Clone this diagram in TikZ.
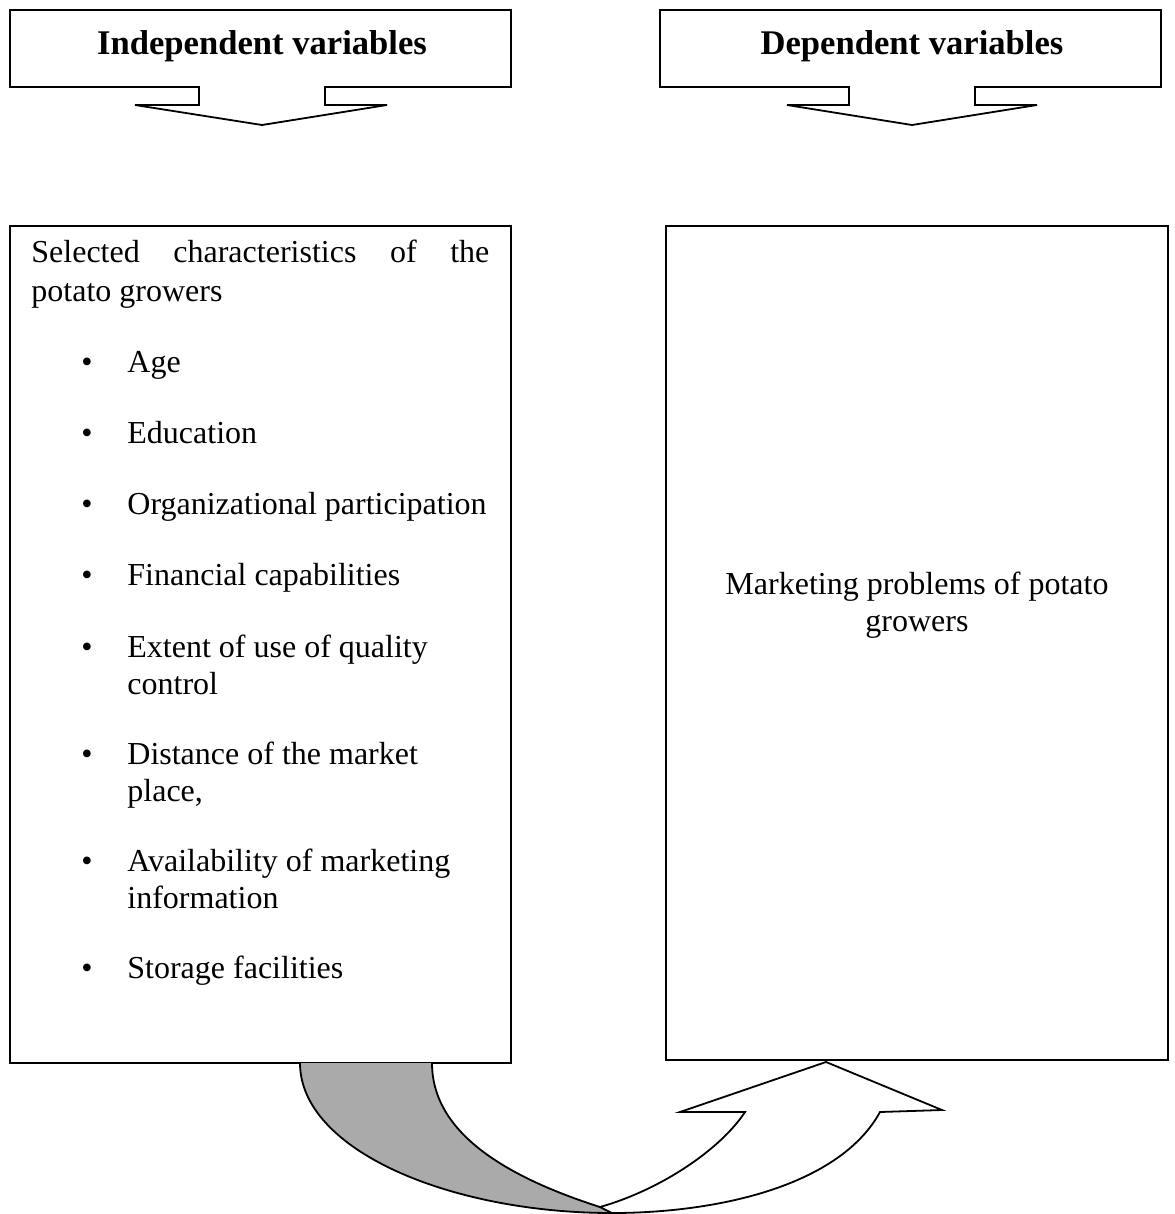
\documentclass[tikz,border=0pt]{standalone}
\usepackage{fontspec}
\setmainfont{Liberation Serif}
\definecolor{ribbon}{RGB}{170,170,170}
\begin{document}
\begin{tikzpicture}[x=0.5pt,y=-0.5pt,
  outline/.style={draw=black,line width=0.9pt,line join=miter},
  hdrtext/.style={font=\fontsize{17.3}{20}\selectfont\bfseries,inner sep=0pt,anchor=base},
  bodytext/.style={font=\fontsize{16}{18.5}\selectfont,inner sep=0pt,anchor=base west},
  bul/.style={font=\fontsize{16}{18.5}\selectfont,inner sep=0pt,anchor=base},
  mainbox/.style={outline,fill=white,inner sep=0pt}]
\useasboundingbox (0,0) rectangle (1174,1214);
% header callouts
\draw[outline] (10,10) -- (511,10) -- (511,87) -- (325,87) -- (325,105) -- (387,105) -- (262,125) -- (135,105) -- (199,105) -- (199,87) -- (10,87) -- cycle;
\draw[outline] (660,10) -- (1161,10) -- (1161,87) -- (975,87) -- (975,105) -- (1037,105) -- (912,125) -- (787,105) -- (849,105) -- (849,87) -- (660,87) -- cycle;
\node[hdrtext] (indep) at (262,55) {Independent variables};
\node[hdrtext] (dep) at (912,55) {Dependent variables};
% main boxes
\node[mainbox,minimum width=250.5pt,minimum height=418.5pt] (left) at (260.5,644.5) {};
\node[mainbox,minimum width=251pt,minimum height=417pt] (right) at (917,643) {};
% left box text
\node[bodytext] (sel1) at (31,263) {\hbox to 229pt{Selected\hfill characteristics\hfill of\hfill the}};
\node[bodytext] (sel2) at (31,301) {potato growers};
\foreach \y/\t [count=\i] in {372/Age,443/Education,514/Organizational participation,585/Financial capabilities,657/{\parbox[t]{180pt}{Extent of use of quality\\control}},764/{\parbox[t]{180pt}{Distance of the market\\place,}},871/{\parbox[t]{180pt}{Availability of marketing\\information}},978/Storage facilities}{
  \node[bul] (b\i) at (87,\y) {\textbullet};
  \node[bodytext] (item\i) at (127,\y) {\t};
}
% right box text
\node[font=\fontsize{16}{18.5}\selectfont,inner sep=0pt,align=center,anchor=base] (mkt) at (917,631) {Marketing problems of potato\\growers};
% curved ribbon arrow
\coordinate (g1) at (300,1063);
\coordinate (g2) at (432,1063);
\coordinate (bot) at (600,1207);
\coordinate (botout) at (612,1213);
\fill[ribbon] (g1) .. controls (300,1150) and (450,1213) .. (botout) -- (bot) .. controls (500,1175) and (432,1130) .. (g2) -- cycle;
\draw[outline] (g1) .. controls (300,1150) and (450,1213) .. (botout);
\draw[outline] (g2) .. controls (432,1130) and (500,1175) .. (bot);
\filldraw[outline,fill=white] (bot) .. controls (660,1190) and (720,1150) .. (745,1112) -- (680,1112) -- (826,1062) -- (942,1110) -- (880,1112) .. controls (840,1185) and (720,1213) .. (botout) -- cycle;
\end{tikzpicture}
\end{document}
